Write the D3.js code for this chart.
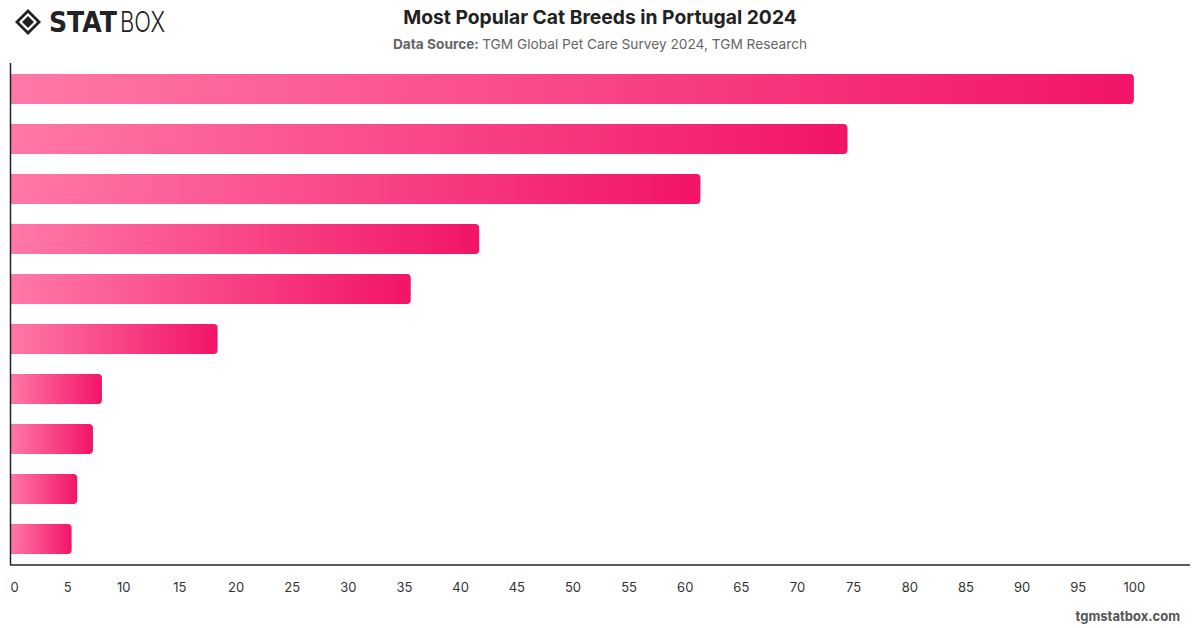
<!DOCTYPE html>
<html>
<head>
<meta charset="utf-8">
<script src="https://cdn.jsdelivr.net/npm/d3@7"></script>
<style>
  body { margin: 0; background: #fff; }
  svg { display: block; font-family: Inter, "Noto Sans", sans-serif; }
</style>
</head>
<body>
<div id="chart"></div>
<script>
// Breeds are not labelled in the picture, so bars are just ranked
const ranks = [1, 2, 3, 4, 5, 6, 7, 8, 9, 10];
const shares = [100, 74.5, 61.4, 41.7, 35.6, 18.4, 8.1, 7.3, 5.9, 5.4];
const tickValues = [0, 5, 10, 15, 20, 25, 30, 35, 40, 45, 50, 55, 60, 65, 70, 75, 80, 85, 90, 95, 100];

const width = 1200, height = 628;
const margin = {top: 64, right: 10, bottom: 64, left: 11};

const svg = d3.select('#chart').append('svg')
    .attr('width', width)
    .attr('height', height);

// gradient per bar, light pink on the left to deep pink on the right
const grad = svg.append('defs').append('linearGradient')
    .attr('id', 'barGrad')
    .attr('x1', '0%').attr('x2', '100%')
    .attr('y1', '0%').attr('y2', '0%');
grad.append('stop').attr('offset', '0%').attr('stop-color', '#ff78a7');
grad.append('stop').attr('offset', '100%').attr('stop-color', '#f21468');

const x = d3.scaleLinear()
    .domain([0, 105])
    .range([margin.left, width - margin.right]);

const y = d3.scaleBand()
    .domain(ranks)
    .range([margin.top, height - margin.bottom])
    .paddingInner(0.4)
    .paddingOuter(0.2);

// bars with rounded right end
const r = 4;
svg.append('g').selectAll('path')
    .data(ranks)
    .join('path')
    .attr('fill', 'url(#barGrad)')
    .attr('d', (d, i) => {
        const x0 = x(0), x1 = x(shares[i]), y0 = y(d), h = y.bandwidth();
        const p = d3.path();
        p.moveTo(x0, y0);
        p.lineTo(x1 - r, y0);
        p.quadraticCurveTo(x1, y0, x1, y0 + r);
        p.lineTo(x1, y0 + h - r);
        p.quadraticCurveTo(x1, y0 + h, x1 - r, y0 + h);
        p.lineTo(x0, y0 + h);
        p.closePath();
        return p.toString();
    });

// axes
const xAxis = d3.axisBottom(x)
    .tickValues(tickValues)
    .tickSize(0)
    .tickPadding(18);

const xAxisG = svg.append('g')
    .attr('transform', `translate(0,${height - margin.bottom + 1})`)
    .call(xAxis);
xAxisG.select('.domain').attr('stroke', '#222').attr('stroke-width', 1.5)
    .attr('d', `M${margin.left - 1},0H${width - margin.right}`);
xAxisG.selectAll('text')
    .attr('font-size', 13)
    .attr('fill', '#333')
    .attr('font-family', 'Inter, sans-serif');
xAxisG.selectAll('.tick').filter(d => d === 0).select('text').attr('dx', 3);

svg.append('line')
    .attr('x1', margin.left - 0.5).attr('x2', margin.left - 0.5)
    .attr('y1', margin.top - 1).attr('y2', height - margin.bottom + 1)
    .attr('stroke', '#222').attr('stroke-width', 1.5);

// title block
svg.append('text')
    .attr('x', 600).attr('y', 24)
    .attr('text-anchor', 'middle')
    .attr('font-size', 19.3).attr('font-weight', 700)
    .attr('fill', '#222')
    .text('Most Popular Cat Breeds in Portugal 2024');

const sub = svg.append('text')
    .attr('x', 600).attr('y', 49)
    .attr('text-anchor', 'middle')
    .attr('font-size', 13.7)
    .attr('fill', '#666');
sub.append('tspan').attr('font-weight', 700).attr('fill', '#666').text('Data Source: ');
sub.append('tspan').text('TGM Global Pet Care Survey 2024, TGM Research');

svg.append('text')
    .attr('x', 1180).attr('y', 621)
    .attr('text-anchor', 'end')
    .attr('font-size', 13).attr('font-weight', 700)
    .attr('fill', '#555')
    .text('tgmstatbox.com');

// logo
const logo = svg.append('g').attr('transform', 'translate(28,22)');
logo.append('path')
    .attr('d', 'M0,-13L13,0L0,13L-13,0Z')
    .attr('fill', '#222');
logo.append('path')
    .attr('d', 'M0,-7.5L7.5,0L0,7.5L-7.5,0Z')
    .attr('fill', 'none').attr('stroke', '#fff').attr('stroke-width', 2.2);
logo.append('path')
    .attr('d', 'M0,-3.5L3.5,0L0,3.5L-3.5,0Z')
    .attr('fill', '#222');
svg.append('text')
    .attr('x', 49).attr('y', 32)
    .attr('font-size', 28).attr('font-weight', 900)
    .attr('fill', '#222')
    .attr('font-family', '"DejaVu Sans", sans-serif')
    .attr('textLength', 68)
    .attr('lengthAdjust', 'spacingAndGlyphs')
    .text('STAT');
svg.append('text')
    .attr('x', 120).attr('y', 32)
    .attr('font-size', 28).attr('font-weight', 300)
    .attr('fill', '#222')
    .attr('font-family', 'Inter, sans-serif')
    .attr('textLength', 45)
    .attr('lengthAdjust', 'spacingAndGlyphs')
    .text('BOX');
</script>
</body>
</html>
